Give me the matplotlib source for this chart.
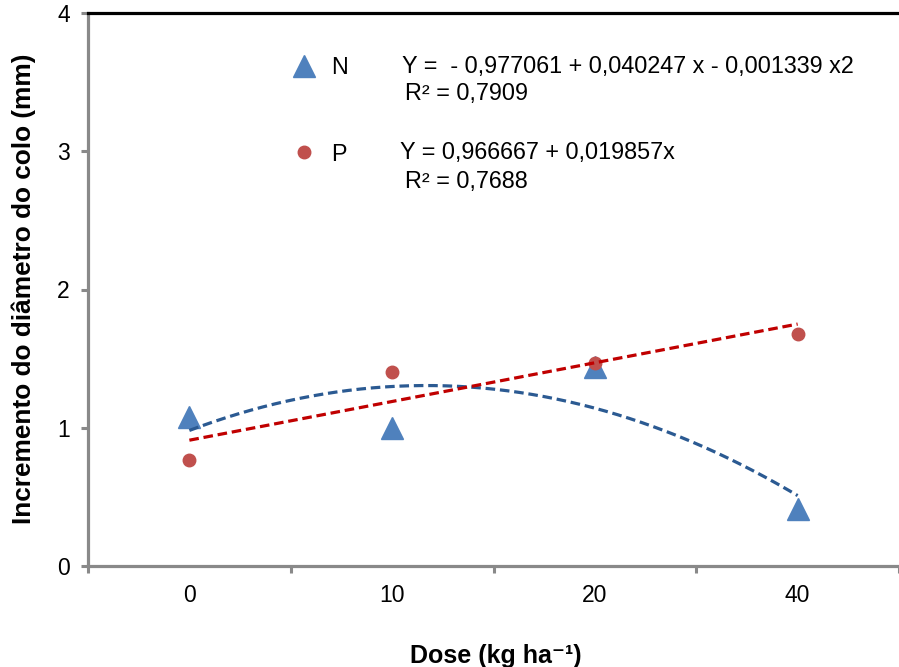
import matplotlib

matplotlib.use("Agg")
import matplotlib.pyplot as plt
import numpy as np
from matplotlib.ticker import FixedLocator, NullFormatter

plt.rcParams["font.family"] = ["Liberation Sans", "DejaVu Sans"]

# Doses are plotted as evenly spaced categories (Excel line-chart style)
DOSES = ["0", "10", "20", "40"]
N_VALUES = [1.08, 1.00, 1.44, 0.41]
P_VALUES = [0.77, 1.40, 1.47, 1.68]

N_EQUATION = "Y =  - 0,977061 + 0,040247 x - 0,001339 x2"
N_R2 = "R² = 0,7909"
P_EQUATION = "Y = 0,966667 + 0,019857x"
P_R2 = "R² = 0,7688"

BLUE = "#4F81BD"
RED = "#C0504D"
AXIS_GRAY = "#898989"
FS = 16.5       # tick labels
FS_TXT = 16.8   # legend + equations

fig = plt.figure(figsize=(8.99, 6.67), dpi=100)
ax = fig.add_axes((88 / 899, 1 - 566 / 667, 811 / 899, 553 / 667))

idx = np.arange(len(DOSES))

ax.plot(idx, N_VALUES, linestyle="none", marker="^", markersize=16,
        color=BLUE, label="N", zorder=3)
ax.plot(idx, P_VALUES, linestyle="none", marker="o", markersize=9,
        color=RED, label="P", zorder=3)

# Trend lines fitted over the category positions (as Excel does)
xs = np.linspace(idx[0], idx[-1], 200)
n_fit = np.polyfit(idx, N_VALUES, 2)
p_fit = np.polyfit(idx, P_VALUES, 1)
ax.plot(xs, np.polyval(n_fit, xs), color="#2B5A92", linewidth=2.3,
        dashes=(3.0, 1.5), zorder=4)
ax.plot(xs, np.polyval(p_fit, xs), color="#C00000", linewidth=2.3,
        dashes=(3.0, 1.5), zorder=4)

ax.set_xlim(-0.5, len(DOSES) - 0.5)
ax.set_ylim(0, 4)

# category labels on minor ticks, boundary tick marks on major ticks
ax.xaxis.set_major_locator(FixedLocator(np.arange(len(DOSES) + 1) - 0.5))
ax.xaxis.set_major_formatter(NullFormatter())
ax.xaxis.set_minor_locator(FixedLocator(idx))
ax.set_xticklabels(DOSES, minor=True)
ax.tick_params(axis="x", which="major", direction="out", length=5, width=2.2,
               color=AXIS_GRAY)
ax.tick_params(axis="x", which="minor", length=0, pad=13, labelsize=FS)
ax.set_yticks([0, 1, 2, 3, 4])
ax.tick_params(axis="y", direction="out", length=5, width=2.2, color=AXIS_GRAY,
               pad=8, labelsize=FS)

for side in ("left", "bottom"):
    ax.spines[side].set_color(AXIS_GRAY)
    ax.spines[side].set_linewidth(2.3)
ax.spines["top"].set_color("black")
ax.spines["top"].set_linewidth(2.3)
ax.spines["right"].set_visible(False)

ax.set_ylabel("Incremento do diâmetro do colo (mm)", fontsize=18.9,
              fontweight="bold")
ax.yaxis.set_label_coords(-0.064, 0.502)
ax.set_xlabel("Dose (kg ha⁻¹)", fontsize=18, fontweight="bold")
ax.xaxis.set_label_coords(0.503, -0.141)

ax.legend(loc="upper left", bbox_to_anchor=(0.238, 0.943), frameon=False,
          fontsize=FS_TXT, borderpad=0, labelspacing=2.72, handlelength=1.0,
          handletextpad=0.64)

ax.text(0.387, 0.904, N_EQUATION, transform=ax.transAxes, fontsize=FS_TXT, va="center")
ax.text(0.391, 0.855, N_R2, transform=ax.transAxes, fontsize=FS_TXT, va="center")
ax.text(0.385, 0.747, P_EQUATION, transform=ax.transAxes, fontsize=FS_TXT, va="center")
ax.text(0.391, 0.696, P_R2, transform=ax.transAxes, fontsize=FS_TXT, va="center")

fig.savefig("out.png", dpi=100)
